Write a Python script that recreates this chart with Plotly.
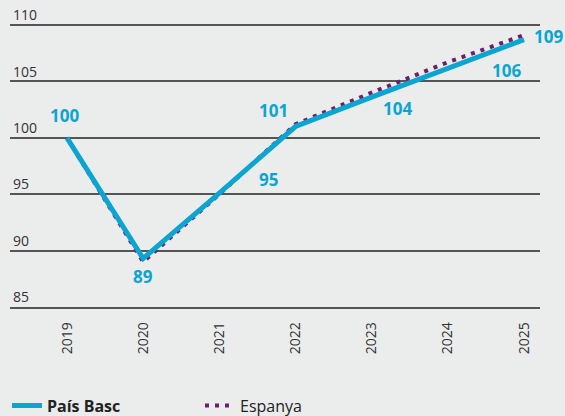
import plotly.graph_objects as go

years = [2019, 2020, 2021, 2022, 2023, 2024, 2025]
pais_basc = [100.0, 89.3, 95.1, 101.0, 103.6, 106.2, 108.7]
espanya = [100.0, 89.0, 95.0, 101.2, 104.0, 106.7, 109.1]
label_text = ["100", "89", "95", "101", "104", "106", "109"]
y_ticks = [85, 90, 95, 100, 105, 110]

BLUE = "#0BA5D1"
PURPLE = "#6E1E6C"
GRID = "#555555"
BG = "#EBECEC"

# label offsets (px) relative to each País Basc point: styling only
label_dx = [-2, 0, 49, -22, 26, 59, 24]
label_dy = [22, -18, 14, 16, -11, -3, 3]

fig = go.Figure()
fig.add_trace(go.Scatter(
    x=years, y=espanya, name="Espanya", mode="lines",
    line=dict(color=PURPLE, width=4, dash="4px,6px"), legendrank=2,
))
fig.add_trace(go.Scatter(
    x=years, y=pais_basc, name="<b>País Basc</b>", mode="lines",
    line=dict(color=BLUE, width=5), legendrank=1,
))

for x, y, t, dx, dy in zip(years, pais_basc, label_text, label_dx, label_dy):
    fig.add_annotation(x=x, y=y, text=f"<b>{t}</b>", showarrow=False,
                       xshift=dx, yshift=dy,
                       font=dict(family="Open Sans", size=17, color=BLUE))

fig.update_layout(
    width=565, height=416,
    paper_bgcolor=BG, plot_bgcolor=BG,
    margin=dict(l=10, r=25, t=0, b=109),
    font=dict(family="Open Sans", size=14, color="#333333"),
    showlegend=True,
    legend=dict(orientation="h", x=0.0124, xref="container", xanchor="left",
                y=0.066, yref="container", yanchor="top",
                font=dict(size=16, color="#222222"), bgcolor="rgba(0,0,0,0)",
                entrywidth=148, entrywidthmode="pixels", traceorder="normal"),
)
fig.update_xaxes(
    range=[2018.252, 2025.21], tickmode="array", tickvals=years,
    ticktext=[str(y) for y in years], tickangle=-90, showgrid=False,
    showline=True, linecolor=GRID, linewidth=1.5, ticks="", zeroline=False,
    ticklabelstandoff=8, tickfont=dict(size=14, color="#333333"),
    automargin=False,
)
fig.update_yaxes(
    range=[85, 112.216], tickmode="array", tickvals=y_ticks,
    showgrid=True, gridcolor=GRID, gridwidth=1.5, zeroline=False,
    ticklabelposition="inside top", ticks="", showline=False,
    tickfont=dict(size=14, color="#333333"), automargin=False,
)

fig.write_html("out.html", config={"displayModeBar": False},
               post_script="document.body.style.margin='0px';document.body.style.overflow='hidden';")
